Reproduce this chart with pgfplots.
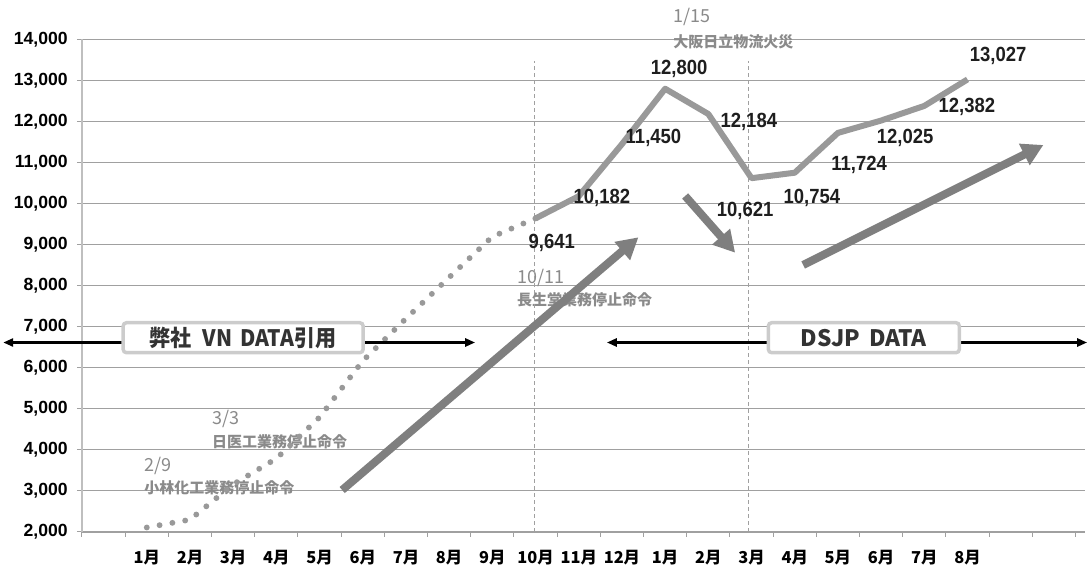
\documentclass[border=0pt]{standalone}
\usepackage{pgfplots}
\pgfplotsset{compat=1.18}
\usetikzlibrary{arrows.meta}
\usepackage{fontspec}
\setmainfont{Liberation Sans}
\newfontfamily\jp{Noto Sans CJK JP}
\newfontfamily\lbl{Liberation Sans}[FakeStretch=0.9]
\definecolor{lineg}{HTML}{999999}
\definecolor{arrg}{HTML}{7F7F7F}
\definecolor{anng}{HTML}{8A8A8A}
\definecolor{gridg}{HTML}{A0A0A0}
\definecolor{labk}{HTML}{1E1E1E}
\definecolor{boxt}{HTML}{333333}
\begin{document}
\begin{tikzpicture}
\useasboundingbox (-61.5pt,-28.5pt) rectangle (754.5pt,399pt);
\begin{axis}[
  at={(0,0)}, anchor=south west,
  scale only axis, width=752.25pt, height=369.375pt,
  xmin=-0.5, xmax=22.72, ymin=2000, ymax=14000,
  clip=false,
  axis x line*=bottom, axis y line*=left,
  x axis line style={draw=gridg, line width=1.1pt},
  y axis line style={draw=gray!50, line width=1.5pt},
  ytick={2000,3000,...,14000},
  scaled y ticks=false,
  ymajorgrids, grid style={gridg, line width=0.75pt},
  tick align=outside,
  major tick length=3.75pt,
  minor tick length=3.75pt,
  ytick style={gridg, line width=0.75pt},
  xtick={1,...,20},
  xticklabels={1月,2月,3月,4月,5月,6月,7月,8月,9月,10月,11月,12月,1月,2月,3月,4月,5月,6月,7月,8月},
  major x tick style={draw=none},
  minor xtick={-0.5,0.5,...,22.5},
  minor x tick style={gridg, line width=0.75pt},
  xticklabel style={font=\jp\bfseries\fontsize{12.3}{13}\selectfont, anchor=base, yshift=-20pt},
  yticklabel style={font=\bfseries\fontsize{13.2}{14}\selectfont, anchor=east, xshift=-3.5pt,
    /pgf/number format/fixed, /pgf/number format/precision=0,
    /pgf/number format/assume math mode=true, /pgf/number format/1000 sep={,}},
]
% annotations
\node[anchor=west, inner sep=0pt, text=anng, font=\jp\fontsize{13.5}{14}\selectfont] at (axis cs:13.184,14549) {1/15};
\node[anchor=west, inner sep=0pt, text=anng, font=\jp\bfseries\fontsize{11.25}{12}\selectfont] at (axis cs:13.184,13947) {大阪日立物流火災};
\node[anchor=west, inner sep=0pt, text=anng, font=\jp\fontsize{13.5}{14}\selectfont] at (axis cs:9.567,8182) {10/11};
\node[anchor=west, inner sep=0pt, text=anng, font=\jp\bfseries\fontsize{11.25}{12}\selectfont] at (axis cs:9.567,7653) {長生堂業務停止命令};
\node[anchor=west, inner sep=0pt, text=anng, font=\jp\fontsize{13.5}{14}\selectfont] at (axis cs:2.507,4753) {3/3};
\node[anchor=west, inner sep=0pt, text=anng, font=\jp\bfseries\fontsize{11.25}{12}\selectfont] at (axis cs:2.507,4200) {日医工業務停止命令};
\node[anchor=west, inner sep=0pt, text=anng, font=\jp\fontsize{13.5}{14}\selectfont] at (axis cs:0.94,3608) {2/9};
\node[anchor=west, inner sep=0pt, text=anng, font=\jp\bfseries\fontsize{11.25}{12}\selectfont] at (axis cs:0.94,3079) {小林化工業務停止命令};
% dashed verticals
\draw[gridg, dash pattern=on 3pt off 2.25pt, line width=0.75pt] (axis cs:9.97,2000) -- (axis cs:9.97,13477);
\draw[gridg, dash pattern=on 3pt off 2.25pt, line width=0.75pt] (axis cs:14.94,2000) -- (axis cs:14.94,13477);
% VN data (dotted)
\addplot[lineg, line width=4.4pt, line cap=round, dash pattern=on 0pt off 9.75pt, mark=none] coordinates {
(1,2110) (2,2300) (3,3160) (4,3790) (5,4795) (6,6170) (7,7200) (8,8204) (9,9196) (10,9641)};
% DSJP data (solid)
\addplot[lineg, line width=4.5pt, line join=round, mark=none] coordinates {
(10,9641) (11,10182) (12,11450) (13,12800) (14,12184) (15,10621) (16,10754) (17,11724) (18,12025) (19,12382) (20,13027)};
% gray trend arrows
\draw[arrg, line width=6pt, -{Triangle[width=17pt,length=16pt]}] (axis cs:5.523,3023) -- (axis cs:12.382,9181);
\draw[arrg, line width=6pt, -{Triangle[width=17pt,length=16pt]}] (axis cs:13.463,10187) -- (axis cs:14.62,8806);
\draw[arrg, line width=6pt, -{Triangle[width=17pt,length=16pt]}] (axis cs:16.194,8506) -- (axis cs:21.757,11430);
% black range arrows
\draw[black, line width=1.9pt, {Triangle[width=6pt,length=7.5pt]}-{Triangle[width=6pt,length=7.5pt]}] (axis cs:-2.324,6617) -- (axis cs:8.602,6617);
\draw[black, line width=1.9pt, {Triangle[width=6pt,length=7.5pt]}-{Triangle[width=6pt,length=7.5pt]}] (axis cs:11.65,6617) -- (axis cs:22.77,6617);
% boxes
\node[draw=gray!40, line width=2.6pt, fill=white, rounded corners=2.5pt, minimum width=180pt, minimum height=22.5pt, inner sep=0pt, text=boxt, font=\jp\bfseries\fontsize{17}{18}\selectfont] at (axis cs:3.231,6734) {\scalebox{0.93}[1]{弊社\hspace{0.5em}VN\hspace{0.4em}DATA引用}};
\node[draw=gray!40, line width=2.6pt, fill=white, rounded corners=2.5pt, minimum width=143.25pt, minimum height=22.5pt, inner sep=0pt, text=boxt, font=\jp\bfseries\fontsize{17}{18}\selectfont] at (axis cs:17.6,6734) {DSJP\hspace{0.4em}DATA};
% data labels
\begin{scope}[every node/.style={text=labk, font=\lbl\bfseries\fontsize{15.4}{16}\selectfont, inner sep=0pt}]
\node at (axis cs:10.377,9042) {9,641};
\node at (axis cs:11.535,10138) {10,182};
\node at (axis cs:12.73,11593) {11,450};
\node at (axis cs:13.324,13282) {12,800};
\node at (axis cs:14.937,11998) {12,184};
\node at (axis cs:14.852,9822) {10,621};
\node at (axis cs:16.396,10138) {10,754};
\node at (axis cs:17.491,10943) {11,724};
\node at (axis cs:18.556,11600) {12,025};
\node at (axis cs:19.984,12363) {12,382};
\node at (axis cs:20.708,13599) {13,027};
\end{scope}
\end{axis}
\end{tikzpicture}
\end{document}
